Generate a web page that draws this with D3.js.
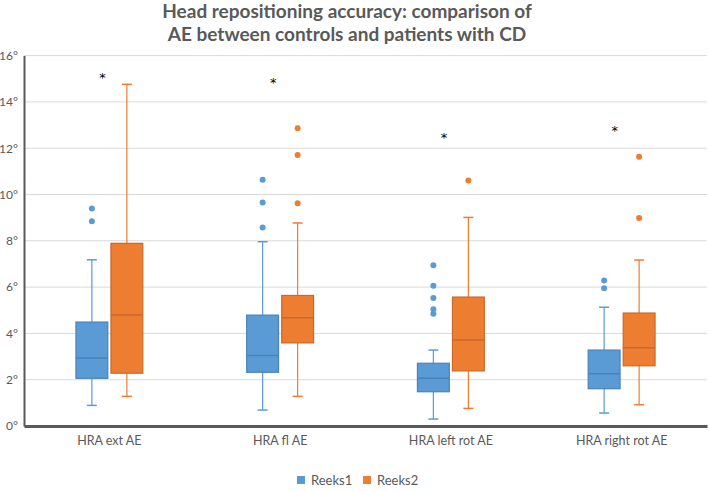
<!DOCTYPE html>
<html><head><meta charset="utf-8">
<script src="https://cdn.jsdelivr.net/npm/d3@7"></script>
<style>body{margin:0;background:#fff}svg{display:block}</style>
</head><body>
<svg id="c" width="709" height="491"></svg>
<script>
// ---- data ----
const categories = ["HRA ext AE", "HRA fl AE", "HRA left rot AE", "HRA right rot AE"];
const seriesNames = ["Reeks1", "Reeks2"];
// [whiskerLow, Q1, median, Q3, whiskerHigh] per category
const reeks1Stats = [
  [0.89, 2.06, 2.94, 4.49, 7.18],
  [0.69, 2.32, 3.05, 4.79, 7.96],
  [0.30, 1.48, 2.06, 2.71, 3.28],
  [0.56, 1.61, 2.26, 3.28, 5.13]
];
const reeks2Stats = [
  [1.28, 2.28, 4.79, 7.89, 14.76],
  [1.28, 3.59, 4.68, 5.64, 8.77],
  [0.76, 2.38, 3.71, 5.57, 9.01],
  [0.92, 2.60, 3.38, 4.88, 7.17]
];
const reeks1Outliers = [
  [9.40, 8.84],
  [10.64, 9.65, 8.57],
  [6.94, 6.06, 5.53, 5.04, 4.85],
  [6.28, 5.95]
];
const reeks2Outliers = [
  [],
  [12.86, 11.71, 9.62],
  [10.61],
  [11.63, 8.98]
];
const asteriskValues = [15.2, 15.0, 12.6, 12.9];
const yTicks = [0, 2, 4, 6, 8, 10, 12, 14, 16];
const titleLines = ["Head repositioning accuracy: comparison of", "AE between controls and patients with CD"];

// ---- drawing ----
const svg = d3.select("#c");
const colors = {Reeks1: "#5B9BD5", Reeks2: "#ED7D31"};
const dark = {Reeks1: "#4A82B8", Reeks2: "#C9692A"};
const L = 24, R = 707, T = 55.6, B = 426;
const x = d3.scaleBand().domain(categories).range([L, R]);
const y = d3.scaleLinear().domain([0, 16]).range([B, T]);
const half = x.bandwidth() * 0.205;
const xs = d3.scaleBand().domain(seriesNames).range([-half, half]);
const boxW = xs.bandwidth() * 0.91;
const capW = 10;
const font = "Lato, 'Open Sans', sans-serif";

// title
svg.append("g").selectAll("text").data(titleLines).join("text")
  .attr("x", 347).attr("y", (d, i) => 18 + i * 23)
  .attr("text-anchor", "middle")
  .attr("font-family", font)
  .attr("font-weight", "bold").attr("font-size", 19)
  .attr("fill", "#595959").text(d => d);

// gridlines
svg.append("g").selectAll("line").data(yTicks.filter(t => t > 0)).join("line")
  .attr("x1", L).attr("x2", R).attr("y1", d => y(d)).attr("y2", d => y(d))
  .attr("stroke", "#D9D9D9").attr("stroke-width", 1);

// y axis
const yAxis = d3.axisLeft(y).tickValues(yTicks).tickFormat(d => d + "°").tickSize(0).tickPadding(6);
const ga = svg.append("g").attr("transform", `translate(${L},0)`).call(yAxis);
ga.select(".domain").attr("stroke", "#595959").attr("stroke-width", 2);
ga.selectAll("text").attr("font-family", font).attr("font-size", 12).attr("fill", "#595959");

// x axis
const xAxis = d3.axisBottom(x).tickSize(0).tickPadding(10);
const gx = svg.append("g").attr("transform", `translate(0,${B})`).call(xAxis);
gx.select(".domain").attr("stroke", "#595959").attr("stroke-width", 3);
gx.selectAll("text").attr("font-family", font).attr("font-size", 12.5).attr("fill", "#595959");

// boxes
const allStats = {Reeks1: reeks1Stats, Reeks2: reeks2Stats};
const allOut = {Reeks1: reeks1Outliers, Reeks2: reeks2Outliers};
seriesNames.forEach(s => {
  const g = svg.append("g");
  categories.forEach((c, i) => {
    const [lo, q1, med, q3, hi] = allStats[s][i];
    const cx = x(c) + x.bandwidth() / 2 + xs(s) + xs.bandwidth() / 2;
    g.append("line").attr("x1", cx).attr("x2", cx).attr("y1", y(hi)).attr("y2", y(q3))
      .attr("stroke", colors[s]).attr("stroke-width", 1.2);
    g.append("line").attr("x1", cx).attr("x2", cx).attr("y1", y(q1)).attr("y2", y(lo))
      .attr("stroke", colors[s]).attr("stroke-width", 1.2);
    [lo, hi].forEach(v => g.append("line").attr("x1", cx - capW / 2).attr("x2", cx + capW / 2)
      .attr("y1", y(v)).attr("y2", y(v)).attr("stroke", colors[s]).attr("stroke-width", 1.5));
    g.append("rect").attr("x", cx - boxW / 2).attr("y", y(q3)).attr("width", boxW)
      .attr("height", y(q1) - y(q3)).attr("fill", colors[s])
      .attr("stroke", dark[s]).attr("stroke-width", 1.2);
    g.append("line").attr("x1", cx - boxW / 2).attr("x2", cx + boxW / 2)
      .attr("y1", y(med)).attr("y2", y(med)).attr("stroke", dark[s]).attr("stroke-width", 1.5);
    allOut[s][i].forEach(v => g.append("circle").attr("cx", cx).attr("cy", y(v)).attr("r", 3)
      .attr("fill", colors[s]));
  });
});

// asterisks
svg.append("g").selectAll("text").data(asteriskValues).join("text")
  .attr("x", (d, i) => x(categories[i]) + x.bandwidth() / 2 - 7)
  .attr("y", d => y(d) + 8)
  .attr("text-anchor", "middle")
  .attr("font-family", "'DejaVu Sans', sans-serif").attr("font-size", 13)
  .attr("fill", "#000").text("*");

// legend
const lg = svg.append("g").attr("transform", "translate(297,480)");
const items = lg.selectAll("g").data(seriesNames).join("g")
  .attr("transform", (d, i) => `translate(${i * 66},0)`);
items.append("rect").attr("x", 0).attr("y", -4).attr("width", 8).attr("height", 8).attr("fill", d => colors[d]);
items.append("text").attr("x", 14).attr("y", 4.5)
  .attr("font-family", font).attr("font-size", 13).attr("fill", "#595959")
  .text(d => d);
</script>
</body></html>
